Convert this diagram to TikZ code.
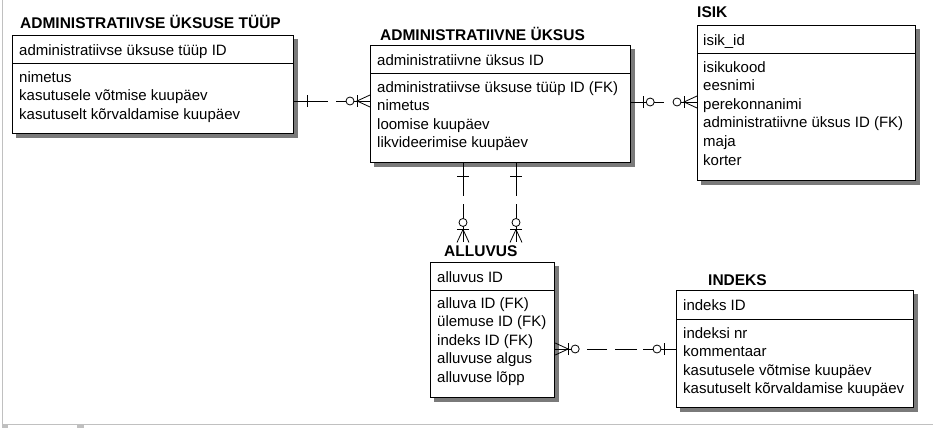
\documentclass[tikz,border=0pt]{standalone}
\usepackage{fontspec}
\setmainfont{Liberation Sans}
\usepackage{xcolor}
\usepackage{tikz}
\usetikzlibrary{positioning, calc, backgrounds}
\definecolor{FrameGray}{HTML}{C0C0C0}
\definecolor{ShadowGray}{HTML}{7A7A7A}
\tikzset{
  entity box/.style={draw, line width=1.2pt, fill=white, inner sep=0pt,
                     anchor=north west},
  entity title/.style={anchor=base west, inner sep=0pt,
                       font=\fontsize{15.5}{18}\selectfont\bfseries},
  entity text/.style={anchor=north west, inner sep=0pt, align=left,
                      font=\fontsize{15}{18.6}\selectfont,
                      execute at begin node={\rule{0pt}{13pt}}},
  sep line/.style={line width=0.8pt},
  rel edge/.style={line width=0.8pt},
  one bar/.pic={\draw[rel edge] (13,-6) -- (13,6);},
  zero one/.pic={\draw[rel edge] (12,-6) -- (12,6);
                 \draw[rel edge, fill=white] (19,0) circle (4);},
  zero many/.pic={\draw[rel edge] (0,6) -- (13,0) -- (0,-6);
                  \draw[rel edge] (13,-6) -- (13,6);
                  \draw[rel edge, fill=white] (20,0) circle (4);},
}

\begin{document}
\begin{tikzpicture}[x=1pt, y=1pt]
  \useasboundingbox (0,0) rectangle (933,-428);
  % frame
  \draw[FrameGray, line width=1pt] (2.5,0) -- (2.5,-424.5) -- (933,-424.5);
  \fill[FrameGray] (2,-424) rectangle (8,-428);
  \fill[FrameGray] (77,-424) rectangle (84,-428);

  % ADMINISTRATIIVSE UKSUSE TUUP
  \node[entity box, minimum width=281pt, minimum height=98pt] (tup) at (12,-35) {};
  \node[entity title] (tup title) at ($(tup.north west)+(8,6)$) {ADMINISTRATIIVSE ÜKSUSE TÜÜP};
  \node[entity text] (tup pk) at ($(tup.north west)+(7,-7)$) {administratiivse üksuse tüüp ID};
  \draw[sep line] ($(tup.north west)+(0,-28)$) -- ($(tup.north east)+(0,-28)$);
  \node[entity text] (tup attr) at ($(tup.north west)+(7,-36)$)
    {nimetus\\kasutusele võtmise kuupäev\\kasutuselt kõrvaldamise kuupäev};

  % ADMINISTRATIIVNE UKSUS
  \node[entity box, minimum width=260pt, minimum height=117pt] (yks) at (370,-45) {};
  \node[entity title] (yks title) at ($(yks.north west)+(10,4.5)$) {ADMINISTRATIIVNE ÜKSUS};
  \node[entity text] (yks pk) at ($(yks.north west)+(7,-7)$) {administratiivne üksus ID};
  \draw[sep line] ($(yks.north west)+(0,-28)$) -- ($(yks.north east)+(0,-28)$);
  \node[entity text] (yks attr) at ($(yks.north west)+(7,-36)$)
    {administratiivse üksuse tüüp ID (FK)\\nimetus\\loomise kuupäev\\likvideerimise kuupäev};

  % ISIK
  \node[entity box, minimum width=218pt, minimum height=155pt] (isik) at (697,-25) {};
  \node[entity title] (isik title) at ($(isik.north west)+(0,7)$) {ISIK};
  \node[entity text] (isik pk) at ($(isik.north west)+(6,-7)$) {isik\_id};
  \draw[sep line] ($(isik.north west)+(0,-28)$) -- ($(isik.north east)+(0,-28)$);
  \node[entity text] (isik attr) at ($(isik.north west)+(6,-36)$)
    {isikukood\\eesnimi\\perekonnanimi\\administratiivne üksus ID (FK)\\maja\\korter};

  % ALLUVUS
  \node[entity box, minimum width=124pt, minimum height=135pt] (all) at (430,-262) {};
  \node[entity title] (all title) at ($(all.north west)+(14,5.5)$) {ALLUVUS};
  \node[entity text] (all pk) at ($(all.north west)+(7,-7)$) {alluvus ID};
  \draw[sep line] ($(all.north west)+(0,-28)$) -- ($(all.north east)+(0,-28)$);
  \node[entity text] (all attr) at ($(all.north west)+(7,-35)$)
    {alluva ID (FK)\\ülemuse ID (FK)\\indeks ID (FK)\\alluvuse algus\\alluvuse lõpp};

  % INDEKS
  \node[entity box, minimum width=237pt, minimum height=117pt] (ind) at (676,-290) {};
  \node[entity title] (ind title) at ($(ind.north west)+(32,4.5)$) {INDEKS};
  \node[entity text] (ind pk) at ($(ind.north west)+(7,-7)$) {indeks ID};
  \draw[sep line] ($(ind.north west)+(0,-29)$) -- ($(ind.north east)+(0,-29)$);
  \node[entity text] (ind attr) at ($(ind.north west)+(7,-37)$)
    {indeksi nr\\kommentaar\\kasutusele võtmise kuupäev\\kasutuselt kõrvaldamise kuupäev};

  % shadows
  \begin{scope}[on background layer]
    \foreach \e in {tup, yks, isik, all, ind}
      \fill[ShadowGray] ($(\e.north west)+(4,-4)$) rectangle ($(\e.south east)+(4,-4)$);
  \end{scope}

  % relationships
  \coordinate (r1) at (0,-101);
  \coordinate (r2) at (0,-102);
  \coordinate (r4) at (0,-349);
  \coordinate (f1) at (463,0);
  \coordinate (f2) at (516,0);

  \draw[rel edge, dash pattern=on 34pt off 8pt on 60pt] (tup.east |- r1) -- (yks.west |- r1);
  \pic at (tup.east |- r1) {one bar};
  \pic[rotate=180] at (yks.west |- r1) {zero many};

  \draw[rel edge, dash pattern=on 33pt off 9pt on 60pt] (yks.east |- r2) -- (isik.west |- r2);
  \pic at (yks.east |- r2) {zero one};
  \pic[rotate=180] at (isik.west |- r2) {zero many};

  \draw[rel edge, dash pattern=on 33pt off 8pt on 60pt]
    (yks.south -| f1) -- ($(f1 |- all title.north)+(0,3)$) coordinate (f1 end);
  \pic[rotate=-90] at (yks.south -| f1) {one bar};
  \pic[rotate=90] at (f1 end) {zero many};

  \draw[rel edge, dash pattern=on 33pt off 8pt on 60pt]
    (yks.south -| f2) -- ($(f2 |- all title.north)+(0,3)$) coordinate (f2 end);
  \pic[rotate=-90] at (yks.south -| f2) {one bar};
  \pic[rotate=90] at (f2 end) {zero many};

  \draw[rel edge, dash pattern=on 33pt off 6pt on 22pt off 8pt on 20pt off 11pt on 40pt]
    (ind.west |- r4) -- (all.east |- r4);
  \pic[rotate=180] at (ind.west |- r4) {zero one};
  \pic at (all.east |- r4) {zero many};
\end{tikzpicture}
\end{document}
